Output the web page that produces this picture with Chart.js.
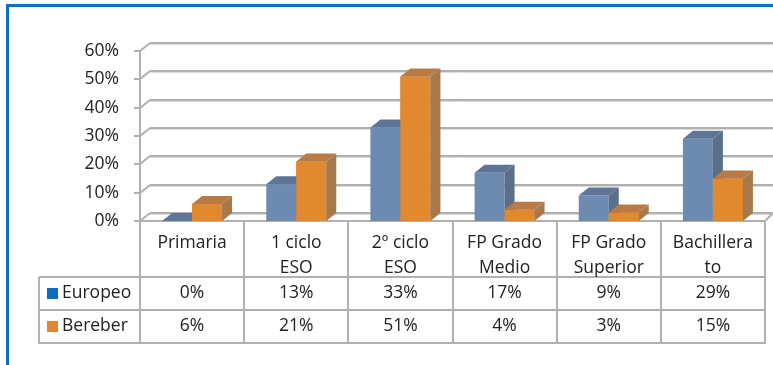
<!DOCTYPE html>
<html>
<head>
<meta charset="utf-8">
<script src="https://cdn.jsdelivr.net/npm/chart.js@4/dist/chart.umd.min.js"></script>
<style>
  html, body { margin: 0; padding: 0; background: #fff; }
  #wrap { position: relative; width: 773px; height: 365px; }
  canvas { display: block; }
</style>
</head>
<body>
<div id="wrap"><canvas id="c" width="773" height="365"></canvas></div>
<script>
// Nivel de estudios por origen (porcentaje)
const categories = [['Primaria'], ['1 ciclo', 'ESO'], ['2º ciclo', 'ESO'], ['FP Grado', 'Medio'], ['FP Grado', 'Superior'], ['Bachillera', 'to']];
const seriesNames = ['Europeo', 'Bereber'];
const europeo = [0, 13, 33, 17, 9, 29];
const bereber = [6, 21, 51, 4, 3, 15];
const yTicks = [0, 10, 20, 30, 40, 50, 60];

const FONT = '"Open Sans", sans-serif';
const TEXT = '#222222';
const GRID = '#b0b0b0';
const DX = 10, DY = -8;           // depth offset of the 3D walls and bars

const faces = [
  { front: '#6d8ab1', top: '#5f7598', side: '#5b6e8c', key: '#0b6fbf' },
  { front: '#e0892f', top: '#b97b45', side: '#a7784c', key: '#e3862f' }
];

function shade(ctx, pts, color) {
  ctx.beginPath();
  ctx.moveTo(pts[0][0], pts[0][1]);
  for (let i = 1; i < pts.length; i++) ctx.lineTo(pts[i][0], pts[i][1]);
  ctx.closePath();
  ctx.fillStyle = color;
  ctx.fill();
}

function line(ctx, x1, y1, x2, y2, color, w) {
  ctx.beginPath();
  ctx.moveTo(x1, y1);
  ctx.lineTo(x2, y2);
  ctx.strokeStyle = color;
  ctx.lineWidth = w;
  ctx.stroke();
}

// Back wall, floor and side wall of the 3D frame
const wallsPlugin = {
  id: 'walls',
  beforeDatasetsDraw(chart) {
    const { ctx, chartArea: a, scales: { y } } = chart;
    const W = chart.width;
    ctx.save();
    ctx.lineCap = 'butt';
    yTicks.forEach(v => {
      const py = Math.round(y.getPixelForValue(v));
      // back wall gridline
      line(ctx, a.left + DX, py + DY + 1.5, W, py + DY + 1.5, '#dcdcdc', 1);
      line(ctx, a.left + DX, py + DY, W, py + DY, GRID, 2);
      // side wall diagonal and tick mark
      line(ctx, a.left, py, a.left + DX, py + DY, GRID, 2);
      line(ctx, a.left - 6, py, a.left, py, GRID, 2);
    });
    // floor
    const fy = Math.round(y.getPixelForValue(0));
    line(ctx, a.right, fy, a.right + DX - 2, fy + DY, GRID, 2);
    line(ctx, a.left, fy, a.right, fy, GRID, 2);
    // vertical axis
    line(ctx, a.left, Math.round(y.getPixelForValue(60)), a.left, fy, GRID, 2);
    ctx.restore();
  }
};

// Tops and right sides of the bars
const depthPlugin = {
  id: 'depth',
  afterDatasetsDraw(chart) {
    const { ctx } = chart;
    const metas = chart.data.datasets.map((d, i) => chart.getDatasetMeta(i));
    ctx.save();
    categories.forEach((c, i) => {
      metas.forEach((meta, s) => {
        const el = meta.data[i];
        const f = faces[s];
        const l = el.x - el.width / 2, r = el.x + el.width / 2;
        const t = el.y, b = el.base;
        if (s > 0) shade(ctx, [[l, t], [r, t], [r, b], [l, b]], f.front);
        shade(ctx, [[l, t], [l + DX, t + DY], [r + DX, t + DY], [r, t]], f.top);
        shade(ctx, [[r, t], [r + DX, t + DY], [r + DX, b + DY], [r, b]], f.side);
      });
    });
    ctx.restore();
  }
};

// Data table beneath the plot
const tablePlugin = {
  id: 'dataTable',
  afterDraw(chart) {
    const { ctx, chartArea: a, scales: { x } } = chart;
    const top = a.bottom;
    const rowTop = 277, rowH = 33;
    const keyLeft = 39;
    const step = (a.right - a.left) / categories.length;
    ctx.save();
    // grid of the table
    for (let i = 0; i <= categories.length; i++) {
      const px = Math.round(a.left + i * step);
      line(ctx, px, top, px, rowTop + 2 * rowH, GRID, 2);
    }
    line(ctx, keyLeft, rowTop, a.right, rowTop, GRID, 2);
    line(ctx, keyLeft, rowTop + rowH, a.right, rowTop + rowH, GRID, 2);
    line(ctx, keyLeft - 1, rowTop + 2 * rowH, a.right + 1, rowTop + 2 * rowH, GRID, 2);
    line(ctx, keyLeft, rowTop, keyLeft, rowTop + 2 * rowH, GRID, 2);

    ctx.fillStyle = TEXT;
    ctx.font = '17.5px ' + FONT;
    ctx.textAlign = 'center';
    ctx.textBaseline = 'middle';
    categories.forEach((lines, i) => {
      const cx = x.getPixelForValue(i);
      lines.forEach((txt, k) => ctx.fillText(txt, cx, 243 + k * 25));
    });
    [europeo, bereber].forEach((vals, s) => {
      const cy = rowTop + rowH * s + rowH / 2;
      vals.forEach((v, i) => {
        ctx.fillStyle = TEXT;
        ctx.fillText(v + '%', x.getPixelForValue(i), cy);
      });
      ctx.fillStyle = faces[s].key;
      ctx.fillRect(47, cy - 5.5, 11, 11);
      ctx.fillStyle = TEXT;
      ctx.textAlign = 'left';
      ctx.fillText(seriesNames[s], 62, cy);
      ctx.textAlign = 'center';
    });
    ctx.restore();
  }
};

// Frame around the chart
const framePlugin = {
  id: 'frame',
  afterDraw(chart) {
    const { ctx } = chart;
    ctx.save();
    ctx.fillStyle = '#0a72c0';
    ctx.fillRect(6, 4, chart.width - 6, 3);
    ctx.fillRect(6, 4, 3, chart.height - 4);
    ctx.restore();
  }
};

new Chart(document.getElementById('c'), {
  type: 'bar',
  data: {
    labels: categories,
    datasets: [
      { label: seriesNames[0], data: europeo, backgroundColor: faces[0].front },
      { label: seriesNames[1], data: bereber, backgroundColor: faces[1].front }
    ]
  },
  options: {
    responsive: false,
    animation: false,
    events: [],
    layout: { padding: { left: 0, top: 51, right: 8, bottom: 144 } },
    datasets: { bar: { barPercentage: 1, categoryPercentage: 0.576, borderWidth: 0 } },
    plugins: { legend: { display: false }, tooltip: { enabled: false } },
    scales: {
      x: { display: false, grid: { display: false } },
      y: {
        min: 0, max: 60,
        afterFit(s) { s.width = 140; },
        afterBuildTicks(s) { s.ticks = yTicks.map(v => ({ value: v })); },
        grid: { display: false },
        border: { display: false },
        ticks: {
          padding: 13,
          color: TEXT,
          font: { family: FONT, size: 17.5 },
          callback: v => v + '%'
        }
      }
    }
  },
  plugins: [wallsPlugin, depthPlugin, tablePlugin, framePlugin]
});
</script>
</body>
</html>
